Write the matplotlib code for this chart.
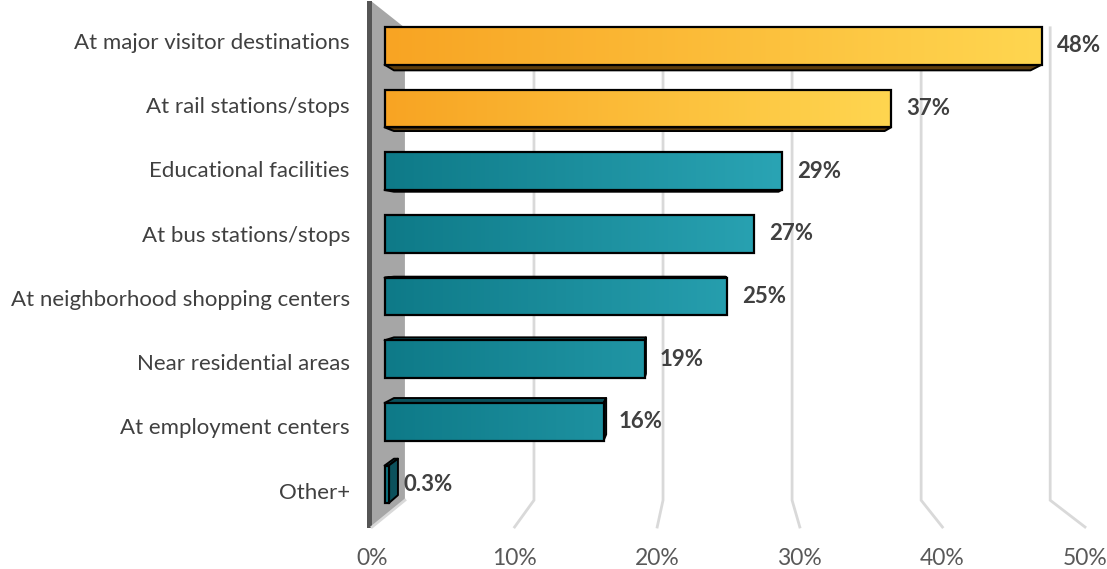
import numpy as np
import matplotlib.pyplot as plt
from matplotlib.colors import LinearSegmentedColormap
from matplotlib.patches import Polygon, Rectangle

plt.rcParams["font.family"] = ["Lato", "DejaVu Sans"]

categories = [
    "At major visitor destinations",
    "At rail stations/stops",
    "Educational facilities",
    "At bus stations/stops",
    "At neighborhood shopping centers",
    "Near residential areas",
    "At employment centers",
    "Other+",
]
values = [48, 37, 29, 27, 25, 19, 16, 0.3]
value_labels = ["48%", "37%", "29%", "27%", "25%", "19%", "16%", "0.3%"]
highlight = [True, True, False, False, False, False, False, False]
xticks = [0, 10, 20, 30, 40, 50]
xtick_labels = ["0%", "10%", "20%", "30%", "40%", "50%"]

# fake 3d: everything is scaled toward a vanishing point (data coords)
VX, VY = 22.0, 3.18
VX_WALL = 24.3
S_FRONT, S_BACK = 0.96, 0.93   # bar front / back faces
S_WALL = 0.905                 # back wall
S_LABEL = 0.985
BAR_H = 0.6

orange = LinearSegmentedColormap.from_list("orange", ["#f8a423", "#ffd650"])
teal = LinearSegmentedColormap.from_list("teal", ["#0e7a88", "#2aa4b4"])
dark_orange = "#5e3d0c"
dark_teal = "#0b515c"


def proj(x, y, s, vx=VX):
    return vx + s * (x - vx), VY + s * (y - VY)


fig = plt.figure(figsize=(11.07, 5.69), dpi=100)
ax = fig.add_axes([372 / 1107, 1 - 527 / 569, 713 / 1107, 522 / 569])
n = len(values)
ymin, ymax = -0.5, n - 0.5

# gridlines on back wall + floor
for t in xticks:
    bx, ty = proj(t, ymin, S_WALL, VX_WALL)
    _, by = proj(t, ymax, S_WALL, VX_WALL)
    if t == 0:
        ax.plot([bx, t], [by, ymax], color="#d9d9d9", lw=2, zorder=3, clip_on=False)
        continue
    ax.plot([bx, bx, t], [ty, by, ymax], color="#d9d9d9", lw=2, zorder=1,
            clip_on=False, solid_joinstyle="miter")

# left side wall
bx, ty = proj(0, ymin, S_WALL, VX_WALL)
_, by = proj(0, ymax, S_WALL, VX_WALL)
ax.add_patch(Polygon([(0, ymin - 0.05), (bx, ty), (bx, by), (0, ymax)],
                     closed=True, facecolor="#a6a6a6", edgecolor="none",
                     zorder=2, clip_on=False))
ax.add_patch(Rectangle((-0.32, ymin - 0.06), 0.32, ymax - ymin + 0.08,
                       facecolor="#555555", edgecolor="none", zorder=2,
                       clip_on=False))

# bars
ypos = np.arange(n)
lefts = [proj(0, 0, S_FRONT)[0]] * n
centers = [proj(0, y, S_FRONT)[1] for y in ypos]
widths = [S_FRONT * v for v in values]
bars = ax.barh(centers, widths, left=lefts, height=S_FRONT * BAR_H,
               color="none", edgecolor="black", linewidth=1.6, zorder=6)

max_teal = max(v for v, h in zip(values, highlight) if not h)
for i, (v, hl, bar) in enumerate(zip(values, highlight, bars)):
    dark = dark_orange if hl else dark_teal
    top, bot = i - BAR_H / 2, i + BAR_H / 2
    faces = []
    if bot < VY:   # bottom face visible
        faces.append([proj(0, bot, S_FRONT), proj(v, bot, S_FRONT),
                      proj(v, bot, S_BACK), proj(0, bot, S_BACK)])
    if top > VY:   # top face visible
        faces.append([proj(0, top, S_FRONT), proj(v, top, S_FRONT),
                      proj(v, top, S_BACK), proj(0, top, S_BACK)])
    if v < VX:     # right end visible
        faces.append([proj(v, top, S_FRONT), proj(v, top, S_BACK),
                      proj(v, bot, S_BACK), proj(v, bot, S_FRONT)])
    for f in faces:
        ax.add_patch(Polygon(f, closed=True, facecolor=dark, edgecolor="black",
                             linewidth=1.4, zorder=4, joinstyle="round"))

    # gradient fill of the front face
    l, r = bar.get_x(), bar.get_x() + bar.get_width()
    yt, yb = bar.get_y(), bar.get_y() + bar.get_height()
    if hl:
        grad = np.linspace(0, 1, 256)[None, :]
        cmap = orange
    else:
        grad = np.linspace(0, v / max_teal, 256)[None, :]
        cmap = teal
    im = ax.imshow(grad, extent=[l, r, yb, yt], aspect="auto", cmap=cmap,
                   vmin=0, vmax=1, zorder=5, interpolation="bilinear")
    im.set_clip_path(bar)

    # value label
    xr = proj(v, 0, S_FRONT)[0]
    ax.annotate(value_labels[i], (xr, centers[i]), xytext=(11, 0),
                textcoords="offset points", ha="left", va="center",
                fontsize=16, fontweight="bold", color="#404040", zorder=7)

ax.set_xlim(0, 50)
ax.set_ylim(ymax, ymin)
ax.set_xticks(xticks)
ax.set_xticklabels(xtick_labels, fontsize=16.5, color="#595959")
ax.set_yticks([proj(0, y, S_LABEL)[1] for y in ypos])
ax.set_yticklabels(categories, fontsize=16, color="#404040")
ax.tick_params(axis="x", length=0, pad=15)
ax.tick_params(axis="y", length=0, pad=16)
for s in ax.spines.values():
    s.set_visible(False)
ax.set_facecolor("none")

fig.savefig("out.png", dpi=100)
